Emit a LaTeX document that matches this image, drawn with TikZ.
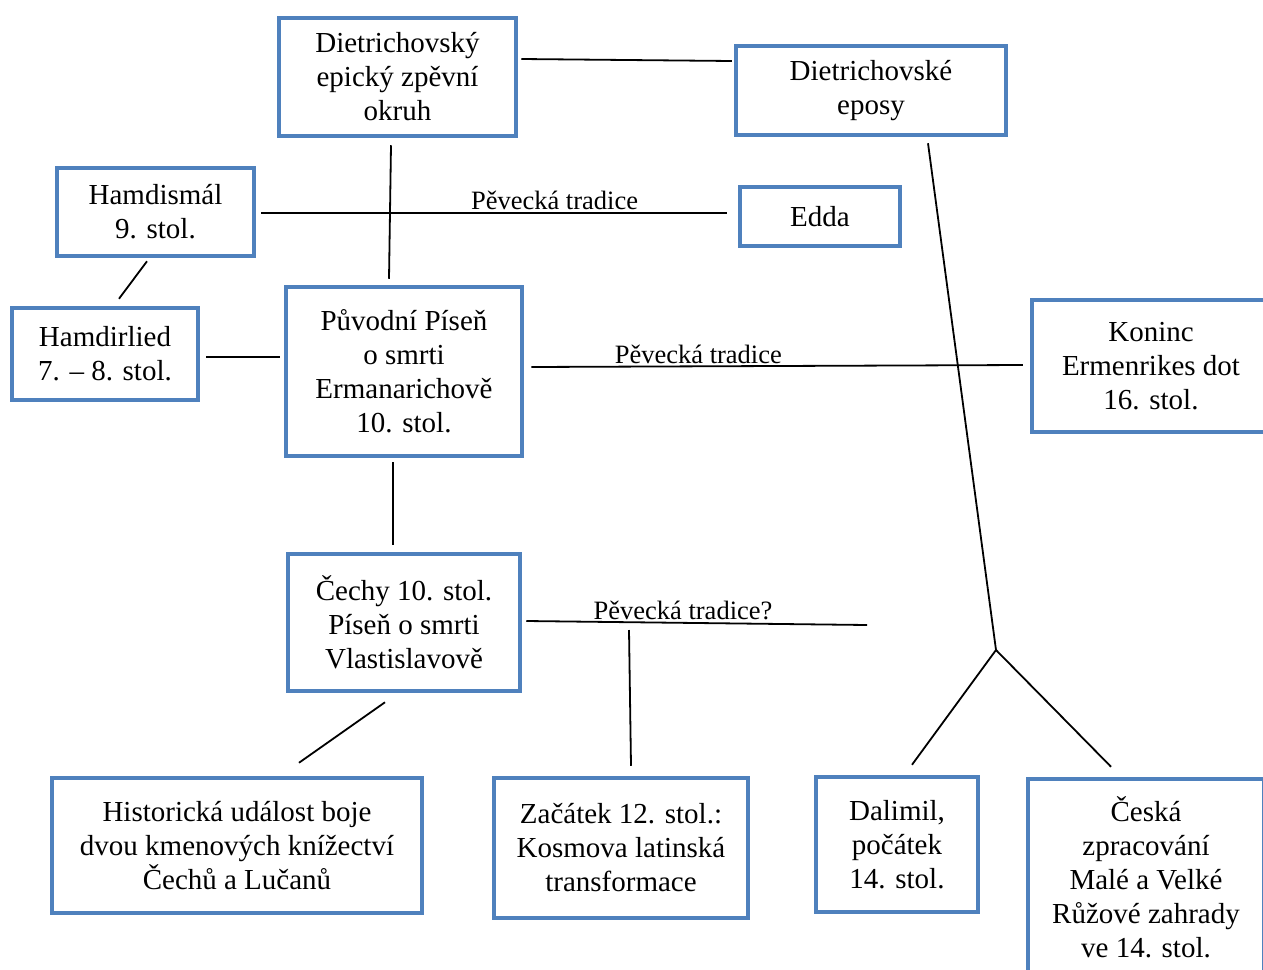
\documentclass[tikz,border=0pt]{standalone}
\usepackage{fontspec}
\setmainfont{Liberation Serif}
\usepackage{tikz}
\definecolor{ramec}{RGB}{79,129,189}

\begin{document}
\begin{tikzpicture}[-, x=1pt, y=-1pt, line width=1.8pt,
	blok/.style={draw=ramec, line width=4.5pt, rectangle, inner sep=0pt, align=center, font=\fontsize{29}{34}\selectfont},
	popis/.style={font=\fontsize{26.5}{30}\selectfont, inner sep=2pt, above}]
		\clip (0,0) rectangle (1263,969);
		\node[blok, minimum width=237pt, minimum height=118pt] (diet) at (397.5,77) {Dietrichovský\\epický zpěvní\\okruh};
		\node[blok, minimum width=270pt, minimum height=89pt] (eposy) at (871,90.5) {Dietrichovské\\eposy};
		\node[blok, minimum width=197pt, minimum height=88pt] (hamdismal) at (155.5,212) {Hamdismál\\9. stol.};
		\node[blok, minimum width=160pt, minimum height=59pt] (edda) at (820,216.5) {Edda};
		\node[blok, minimum width=186pt, minimum height=92pt] (hamdirlied) at (105,354) {Hamdirlied\\7. – 8. stol.};
		\node[blok, minimum width=236pt, minimum height=169pt] (puvodni) at (404,371.5) {Původní Píseň\\o smrti\\Ermanarichově\\10. stol.};
		\node[blok, minimum width=238pt, minimum height=132pt] (koninc) at (1151,366) {Koninc\\Ermenrikes dot\\16. stol.};
		\node[blok, minimum width=232pt, minimum height=137pt] (cechy) at (404,622.5) {Čechy 10. stol.\\Píseň o smrti\\Vlastislavově};
		\node[blok, minimum width=370pt, minimum height=135pt] (historicka) at (237,845.5) {Historická událost boje\\dvou kmenových knížectví\\Čechů a Lučanů};
		\node[blok, minimum width=254pt, minimum height=140pt] (zacatek) at (621,848) {Začátek 12. stol.:\\Kosmova latinská\\transformace};
		\node[blok, minimum width=162pt, minimum height=135pt] (dalimil) at (897,844.5) {Dalimil,\\počátek\\14. stol.};
		\node[blok, minimum width=236pt, minimum height=196pt] (ceska) at (1146,877) {Česká\\zpracování\\Malé a Velké\\Růžové zahrady\\ve 14. stol.};
		
		\coordinate (rozcesti) at (996,650);
		\coordinate (konec) at (867,625);
		\coordinate (odbocka) at (629,630);
		
		\draw ([shift={(3pt,18pt)}]diet.east) edge[] node{} ([shift={(-2pt,29.5pt)}]eposy.west);
		\draw ([shift={(-6.5pt,-7pt)}]diet.south) edge[] node{} ([shift={(-15pt,6pt)}]puvodni.north);
		\draw ([shift={(5pt,-1pt)}]hamdismal.east) edge[] node[popis, pos=0.63]{Pěvecká tradice} ([shift={(-11pt,3.5pt)}]edda.west);
		\draw ([shift={(-8.5pt,-3pt)}]hamdismal.south) edge[] node{} ([shift={(14pt,7pt)}]hamdirlied.north);
		\draw ([shift={(6pt,-3pt)}]hamdirlied.east) edge[] node{} ([shift={(-4pt,14.5pt)}]puvodni.west);
		\draw ([shift={(7pt,4.5pt)}]puvodni.east) edge[] node[popis, pos=0.34]{Pěvecká tradice} ([shift={(-7pt,1pt)}]koninc.west);
		\draw ([shift={(-11pt,-4pt)}]puvodni.south) edge[] node{} ([shift={(-11pt,7pt)}]cechy.north);
		\draw ([shift={(57pt,-6pt)}]eposy.south) edge[] node{} (rozcesti);
		\draw (rozcesti) edge[] node{} ([shift={(15pt,10pt)}]dalimil.north);
		\draw (rozcesti) edge[] node{} ([shift={(-35pt,10pt)}]ceska.north);
		\draw ([shift={(4pt,1.5pt)}]cechy.east) edge[] node[popis, pos=0.46]{Pěvecká tradice?} (konec);
		\draw (odbocka) edge[] node{} ([shift={(10pt,10pt)}]zacatek.north);
		\draw ([shift={(-19pt,-9pt)}]cechy.south) edge[] node{} ([shift={(62pt,13pt)}]historicka.north);
		
	\end{tikzpicture}
\end{document}
